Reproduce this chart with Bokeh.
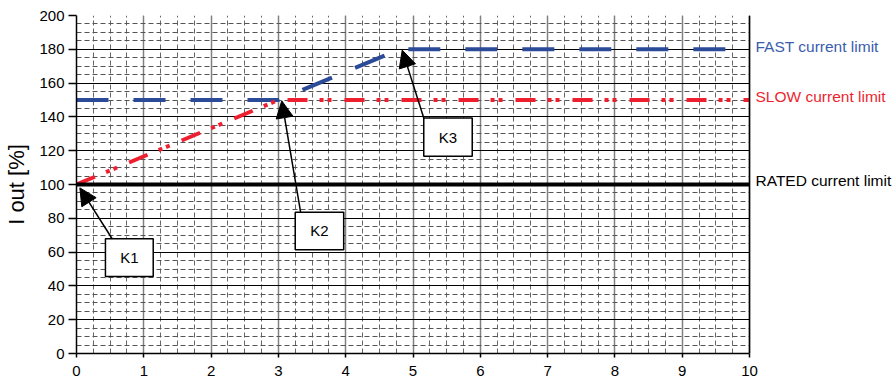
from bokeh.plotting import figure
from bokeh.models import (Range1d, SingleIntervalTicker, Arrow, NormalHead,
                          ColumnDataSource, Span)
from bokeh.core.properties import value
from bokeh.embed import file_html
from bokeh.resources import INLINE

# ---- data ----
rated_x = [0, 10]
rated_y = [100, 100]
slow_x = [0, 3, 10]
slow_y = [100, 150, 150]
fast_x = [0, 3, 4.8, 10]
fast_y = [150, 150, 180, 180]

series_names = ["FAST current limit", "SLOW current limit", "RATED current limit"]
series_label_y = [181.5, 152, 102.5]

box_names = ["K1", "K2", "K3"]
box_left = [0.43, 3.25, 5.16]
box_right = [1.14, 3.97, 5.88]
box_bottom = [45.6, 61.4, 116.7]
box_top = [67.9, 83.6, 139.4]
arrow_start_x = [0.53, 3.33, 5.16]
arrow_start_y = [67.9, 83.6, 139.4]
arrow_end_x = [0.05, 3.05, 4.84]
arrow_end_y = [98.0, 149.5, 179.5]

X_MIN, X_MAX = 0, 10
Y_MIN, Y_MAX = 0, 200

FONT = "Liberation Sans"
BLUE = "#2b4a98"
RED = "#ee1f2f"
LBLUE = "#3a5cad"

W, H = 893, 382
LEFT, TOP = 76, 15
PX_PER_X = 67.3
# frame extended to the right so that the series names can live inside it
x_view_end = (W - LEFT) / PX_PER_X

p = figure(width=W, height=H, output_backend="svg", toolbar_location=None,
           x_range=Range1d(X_MIN, x_view_end), y_range=Range1d(Y_MIN, Y_MAX),
           min_border_left=LEFT, min_border_right=0, min_border_top=TOP,
           min_border_bottom=29)
p.background_fill_color = "white"
p.border_fill_color = "white"
p.outline_line_color = None

p.xaxis.ticker = SingleIntervalTicker(interval=1, num_minor_ticks=4)
p.yaxis.ticker = SingleIntervalTicker(interval=20, num_minor_ticks=4)
p.xgrid.ticker = p.xaxis.ticker
p.ygrid.ticker = p.yaxis.ticker
p.xaxis.bounds = (X_MIN, X_MAX)
p.xgrid.bounds = (X_MIN, X_MAX)

for ax in (p.xaxis, p.yaxis):
    ax.major_label_text_font = FONT
    ax.major_label_text_font_size = "15px"
    ax.major_label_text_color = "black"
    ax.axis_line_color = "black"
    ax.axis_line_width = 1.5
    ax.major_tick_line_color = "black"
    ax.major_tick_line_width = 1.5
    ax.major_tick_in = 0
    ax.minor_tick_in = 0
    ax.minor_tick_out = 0
p.xaxis.major_tick_out = 4
p.xaxis.major_label_standoff = 8
p.yaxis.major_tick_out = 8
p.yaxis.major_label_standoff = 4
p.yaxis.axis_label = "I out [%]"
p.yaxis.axis_label_text_font = FONT
p.yaxis.axis_label_text_font_size = "22px"
p.yaxis.axis_label_text_font_style = "normal"
p.yaxis.axis_label_text_color = "black"
p.yaxis.axis_label_standoff = 7

p.xgrid.grid_line_color = "#808080"
p.xgrid.grid_line_width = 1.5
p.xgrid.minor_grid_line_color = "#666666"
p.xgrid.minor_grid_line_width = 1
p.xgrid.minor_grid_line_dash = "5 3"
p.ygrid.grid_line_color = "black"
p.ygrid.grid_line_width = 1
p.ygrid.minor_grid_line_color = "#555555"
p.ygrid.minor_grid_line_width = 1
p.ygrid.minor_grid_line_dash = "5 3"

yg = p.ygrid[0]
if "cross_bounds" in yg.properties():
    yg.cross_bounds = (X_MIN, X_MAX)
else:
    p.quad(left=[X_MAX], right=[x_view_end], bottom=[Y_MIN], top=[Y_MAX],
           fill_color="white", line_color=None)

# right frame edge
p.add_layout(Span(location=X_MAX, dimension="height", line_color="black",
                  line_width=1.5))

# ---- lines ----
p.line(fast_x, fast_y, line_color=BLUE, line_width=4, line_dash="32 25")
p.line(slow_x, slow_y, line_color=RED, line_width=4, line_dash="20 12 4 4 4 13")
p.line(rated_x, rated_y, line_color="black", line_width=4)

# ---- boxes ----
bsrc = ColumnDataSource(dict(left=box_left, right=box_right, bottom=box_bottom,
                             top=box_top, name=box_names,
                             cx=[(a + b) / 2 for a, b in zip(box_left, box_right)],
                             cy=[(a + b) / 2 for a, b in zip(box_bottom, box_top)]))
p.quad(left="left", right="right", bottom="bottom", top="top", source=bsrc,
       fill_color="white", line_color="black", line_width=1.5)
p.text(x="cx", y="cy", text="name", source=bsrc, text_font=value(FONT),
       text_font_size="15px", text_align="center", text_baseline="middle",
       text_color="black")

for sx, sy, ex, ey in zip(arrow_start_x, arrow_start_y, arrow_end_x, arrow_end_y):
    p.add_layout(Arrow(x_start=sx, y_start=sy, x_end=ex, y_end=ey,
                       line_color="black", line_width=1.5,
                       end=NormalHead(size=17, fill_color="black", line_color="black")))

# ---- right labels ----
lsrc = ColumnDataSource(dict(x=[X_MAX] * 3, y=series_label_y, name=series_names,
                             color=[LBLUE, RED, "black"]))
p.text(x="x", y="y", text="name", source=lsrc, x_offset=6,
       text_font=value(FONT), text_font_size="15.5px", text_color="color",
       text_baseline="middle", text_align="left")

open("out.html", "w").write(file_html(p, INLINE))
